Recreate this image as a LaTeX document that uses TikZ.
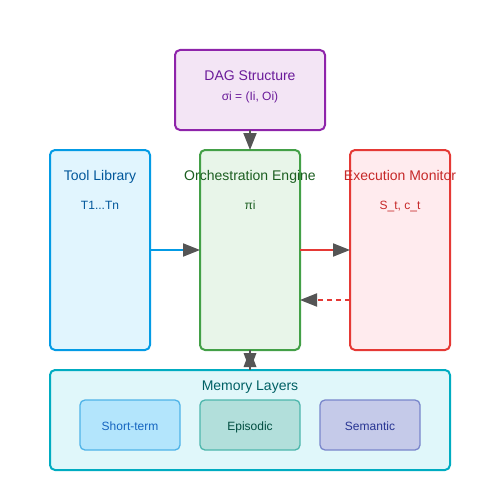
\documentclass[tikz,border=0pt]{standalone}
\usepackage{fontspec}
\setmainfont{Liberation Sans}
\usetikzlibrary{arrows.meta,calc}
\definecolor{dagb}{HTML}{8E24AA}\definecolor{dagf}{HTML}{F3E5F5}\definecolor{dagt}{HTML}{6A1B9A}
\definecolor{toolb}{HTML}{039BE5}\definecolor{toolf}{HTML}{E1F5FE}\definecolor{toolt}{HTML}{01579B}
\definecolor{orcb}{HTML}{43A047}\definecolor{orcf}{HTML}{E8F5E9}\definecolor{orct}{HTML}{1B5E20}
\definecolor{exb}{HTML}{E53935}\definecolor{exf}{HTML}{FFEBEE}\definecolor{ext}{HTML}{C62828}
\definecolor{memb}{HTML}{00ACC1}\definecolor{memf}{HTML}{E0F7FA}\definecolor{memt}{HTML}{006064}
\definecolor{stb}{HTML}{4FB3E8}\definecolor{stf}{HTML}{B3E5FC}\definecolor{stt}{HTML}{1565C0}
\definecolor{epb}{HTML}{4DB6AC}\definecolor{epf}{HTML}{B2DFDB}\definecolor{ept}{HTML}{004D40}
\definecolor{seb}{HTML}{7986CB}\definecolor{sef}{HTML}{C5CAE9}\definecolor{set}{HTML}{283593}
\definecolor{arr}{HTML}{555555}
\begin{document}
\begin{tikzpicture}[x=1pt,y=-1pt,
  box/.style={draw, line width=2pt, rounded corners=5pt},
  sub/.style={draw, line width=1.3pt, rounded corners=5pt},
  ttl/.style={font=\fontsize{14}{16}\selectfont, anchor=base},
  sml/.style={font=\fontsize{12}{14}\selectfont, anchor=base},
  tipend/.style={-{Triangle[length=17pt,width=13pt,color=arr,fill=arr]}, line width=2pt},
  every node/.style={inner sep=0pt}]
\useasboundingbox (0,0) rectangle (500,500);
% boxes
\draw[box, draw=dagb, fill=dagf] (175,50) rectangle (325,130);
\coordinate (dagS) at (250,130);
\node[ttl, text=dagt] (dagT) at (250,81) {DAG Structure};
\node[sml, text=dagt] (dagS2) at (250,101) {σi = (Ii, Oi)};

\draw[box, draw=toolb, fill=toolf] (50,150) rectangle (150,350);
\coordinate (toolE) at (150,250);
\node[ttl, text=toolt] (toolT) at (100,180) {Tool Library};
\node[sml, text=toolt] (toolS) at (100,209) {T1...Tn};

\draw[box, draw=orcb, fill=orcf] (200,150) rectangle (300,350);
\coordinate (orcN) at (250,150);
\coordinate (orcW) at (200,250);
\coordinate (orcE) at (300,250);
\coordinate (orcE2) at (300,300);
\coordinate (orcS) at (250,350);

\draw[box, draw=exb, fill=exf] (350,150) rectangle (450,350);
\coordinate (exW) at (350,250);
\coordinate (exW2) at (350,300);

\draw[box, draw=memb, fill=memf] (50,370) rectangle (450,470);
\coordinate (memN) at (250,370);
\node[ttl, text=memt] (memT) at (250,390) {Memory Layers};
\draw[sub, draw=stb, fill=stf] (80,400) rectangle (180,450);
\node[sml, text=stt] (st) at (130,430) {Short-term};
\draw[sub, draw=epb, fill=epf] (200,400) rectangle (300,450);
\node[sml, text=ept] (ep) at (250,430) {Episodic};
\draw[sub, draw=seb, fill=sef] (320,400) rectangle (420,450);
\node[sml, text=set] (se) at (370,430) {Semantic};

% connectors
\draw[tipend, draw=arr] (dagS) -- (orcN);
\draw[tipend, draw=toolb] (toolE) -- (orcW);
\draw[tipend, draw=exb] (orcE) -- (exW);
\draw[tipend, draw=exb, dash pattern=on 5pt off 4pt] (exW2) -- (orcE2);
% bidirectional: two overlapping heads
\draw[line width=2pt, draw=arr] (orcS) -- (memN);
\fill[arr] (memN) -- ($(orcS)+(-6.5,3)$) -- ($(orcS)+(6.5,3)$) -- cycle;
\fill[arr] (orcS) -- ($(memN)+(-6.5,-3)$) -- ($(memN)+(6.5,-3)$) -- cycle;

% titles on top
\node[ttl, text=orct] (orcT) at (250,180) {Orchestration Engine};
\node[sml, text=orct] (orcS2) at (250,209) {πi};
\node[ttl, text=ext] (exT) at (400,180) {Execution Monitor};
\node[sml, text=ext] (exS) at (400,209) {S\_t, c\_t};
\end{tikzpicture}
\end{document}
